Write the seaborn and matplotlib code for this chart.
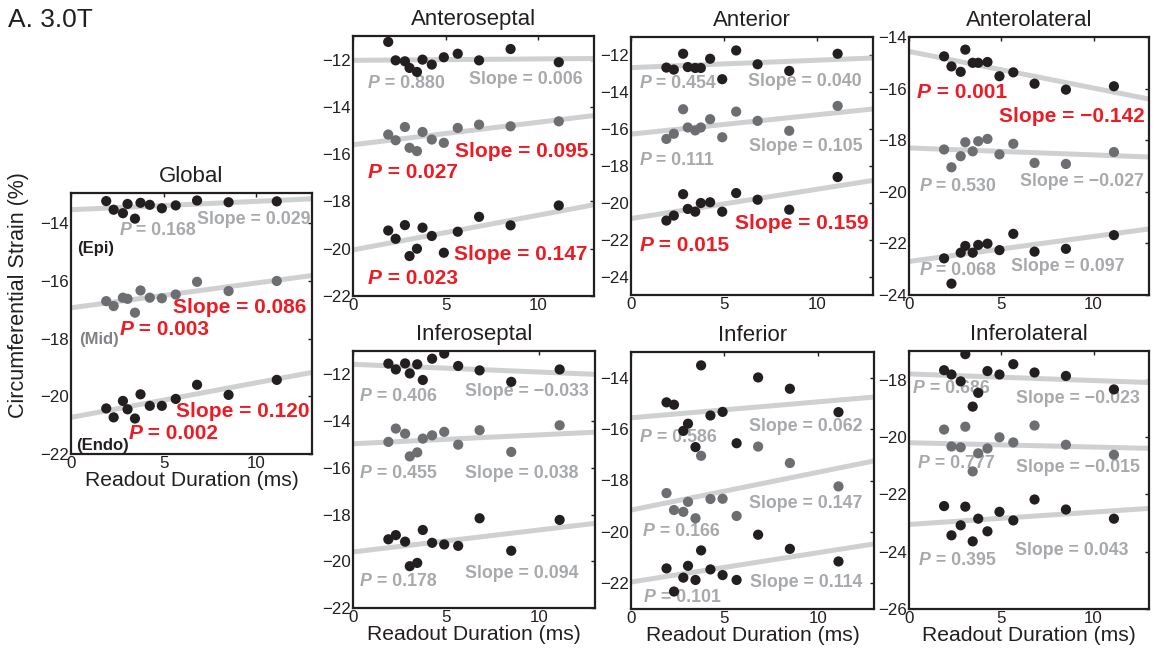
import matplotlib
matplotlib.use("Agg")
import matplotlib.pyplot as plt
import numpy as np
import pandas as pd
import seaborn as sns

# Readout durations (ms), shared by every segment
readout_ms = [1.9, 2.3, 2.8, 3.05, 3.45, 3.75, 4.25, 4.9, 5.65, 6.8, 8.5, 11.1]
layers = ["Epi", "Mid", "Endo"]

# Circumferential strain (%) per segment and layer
global_epi = [-13.23, -13.53, -13.65, -13.33, -13.84, -13.29, -13.36, -13.48, -13.38, -13.21, -13.27, -13.24]
global_mid = [-16.70, -16.87, -16.58, -16.62, -17.10, -16.33, -16.58, -16.60, -16.47, -16.03, -16.35, -16.00]
global_endo = [-20.42, -20.73, -20.16, -20.45, -20.77, -19.93, -20.33, -20.33, -20.09, -19.60, -19.95, -19.43]

anteroseptal_epi = [-11.25, -12.03, -12.07, -12.35, -12.52, -12.00, -12.21, -11.90, -11.75, -12.03, -11.55, -12.11]
anteroseptal_mid = [-15.17, -15.41, -14.85, -15.73, -15.87, -15.06, -15.38, -15.52, -14.89, -14.75, -14.82, -14.61]
anteroseptal_endo = [-19.23, -19.58, -19.00, -20.31, -20.00, -19.11, -19.46, -20.17, -19.28, -18.65, -19.01, -18.17]

anterior_epi = [-12.66, -12.77, -11.91, -12.63, -12.68, -12.68, -12.18, -13.29, -11.73, -12.48, -12.84, -11.91]
anterior_mid = [-16.53, -16.25, -14.92, -15.91, -16.07, -15.91, -15.46, -16.44, -15.05, -15.55, -16.09, -14.74]
anterior_endo = [-20.96, -20.69, -19.53, -20.33, -20.48, -20.01, -19.97, -20.48, -19.47, -19.83, -20.37, -18.60]

anterolateral_epi = [-14.75, -15.14, -15.35, -14.49, -15.00, -15.00, -14.97, -15.52, -15.37, -15.81, -16.04, -15.91]
anterolateral_mid = [-18.36, -19.05, -18.62, -18.08, -18.43, -18.04, -17.95, -18.55, -18.14, -18.88, -18.92, -18.46]
anterolateral_endo = [-22.58, -23.56, -22.36, -22.10, -22.36, -22.06, -22.01, -22.26, -21.63, -22.32, -22.21, -21.68]

inferoseptal_epi = [-11.54, -11.79, -11.53, -11.96, -11.57, -12.24, -11.33, -11.11, -11.64, -11.83, -12.32, -11.79]
inferoseptal_mid = [-14.89, -14.32, -14.54, -15.51, -15.34, -14.75, -14.61, -14.46, -15.01, -14.39, -15.32, -14.18]
inferoseptal_endo = [-19.06, -18.88, -19.16, -20.21, -20.07, -18.66, -19.21, -19.28, -19.34, -18.16, -19.55, -18.23]

inferior_epi = [-14.96, -15.05, -16.07, -15.79, -16.70, -13.52, -15.47, -15.33, -16.55, -13.99, -14.43, -15.34]
inferior_mid = [-18.49, -19.15, -19.22, -18.83, -19.47, -17.04, -18.72, -18.71, -19.38, -16.68, -17.32, -18.23]
inferior_endo = [-21.42, -22.32, -21.78, -21.32, -21.87, -20.72, -21.46, -21.68, -21.87, -20.11, -20.66, -21.15]

inferolateral_epi = [-17.67, -17.82, -18.06, -17.11, -18.94, -18.46, -17.70, -17.82, -17.46, -17.75, -17.87, -18.34]
inferolateral_mid = [-19.74, -20.33, -20.36, -19.64, -21.20, -20.57, -20.40, -20.01, -20.19, -19.60, -20.27, -20.62]
inferolateral_endo = [-22.41, -23.43, -23.08, -22.43, -23.64, -22.85, -23.29, -22.61, -22.91, -22.18, -22.53, -22.85]

# Linear fits per layer (Epi, Mid, Endo): slope, intercept and P value
global_slope = [0.029, 0.086, 0.120]
global_icpt = [-13.53, -16.93, -20.73]
global_p = [0.168, 0.003, 0.002]

anteroseptal_slope = [0.006, 0.095, 0.147]
anteroseptal_icpt = [-12.03, -15.60, -20.05]
anteroseptal_p = [0.880, 0.027, 0.023]

anterior_slope = [0.040, 0.105, 0.159]
anterior_icpt = [-12.66, -16.27, -20.85]
anterior_p = [0.454, 0.111, 0.015]

anterolateral_slope = [-0.142, -0.027, 0.097]
anterolateral_icpt = [-14.56, -18.30, -22.70]
anterolateral_p = [0.001, 0.530, 0.068]

inferoseptal_slope = [-0.033, 0.038, 0.094]
inferoseptal_icpt = [-11.57, -14.97, -19.60]
inferoseptal_p = [0.406, 0.455, 0.178]

inferior_slope = [0.062, 0.147, 0.114]
inferior_icpt = [-15.56, -19.15, -21.95]
inferior_p = [0.586, 0.166, 0.101]

inferolateral_slope = [-0.023, -0.015, 0.043]
inferolateral_icpt = [-17.80, -20.20, -23.05]
inferolateral_p = [0.686, 0.777, 0.395]

panels = {
    "Global": (global_epi, global_mid, global_endo, global_slope, global_icpt, global_p),
    "Anteroseptal": (anteroseptal_epi, anteroseptal_mid, anteroseptal_endo,
                     anteroseptal_slope, anteroseptal_icpt, anteroseptal_p),
    "Anterior": (anterior_epi, anterior_mid, anterior_endo,
                 anterior_slope, anterior_icpt, anterior_p),
    "Anterolateral": (anterolateral_epi, anterolateral_mid, anterolateral_endo,
                      anterolateral_slope, anterolateral_icpt, anterolateral_p),
    "Inferoseptal": (inferoseptal_epi, inferoseptal_mid, inferoseptal_endo,
                     inferoseptal_slope, inferoseptal_icpt, inferoseptal_p),
    "Inferior": (inferior_epi, inferior_mid, inferior_endo,
                 inferior_slope, inferior_icpt, inferior_p),
    "Inferolateral": (inferolateral_epi, inferolateral_mid, inferolateral_endo,
                      inferolateral_slope, inferolateral_icpt, inferolateral_p),
}

# ---- layout (pixel boxes: left, top, right, bottom) ----
W, H = 1155, 653
boxes = {
    "Global": (71, 193, 312, 454),
    "Anteroseptal": (353, 36, 594, 296),
    "Anterior": (631, 37, 873, 295),
    "Anterolateral": (909, 37, 1149, 295),
    "Inferoseptal": (353, 351, 595, 608),
    "Inferior": (631, 352, 874, 609),
    "Inferolateral": (909, 351, 1149, 609),
}
ylims = {
    "Global": (-22, -12.95),
    "Anteroseptal": (-22, -11),
    "Anterior": (-25, -11),
    "Anterolateral": (-24, -14),
    "Inferoseptal": (-22, -11),
    "Inferior": (-23, -13),
    "Inferolateral": (-26, -17),
}
with_xlabel = {"Global", "Inferoseptal", "Inferior", "Inferolateral"}

# annotation anchors per layer: (P label left/center, slope label right/center)
label_pos = {
    "Global": [((2.6, -14.26), (12.9, -13.88)), ((2.6, -17.69), (12.68, -16.93)),
               ((3.09, -21.29), (12.86, -20.53))],
    "Anteroseptal": [((0.8, -13.01), (12.41, -12.85)), ((0.8, -16.79), (12.68, -15.87)),
                     ((0.8, -21.27), (12.64, -20.24))],
    "Anterior": [((0.45, -13.52), (12.37, -13.43)), ((0.45, -17.7), (12.42, -16.96)),
                 ((0.45, -22.3), (12.78, -21.14))],
    "Anterolateral": [((0.43, -16.14), (12.75, -17.07)), ((0.57, -19.78), (12.71, -19.59)),
                      ((0.57, -23.04), (11.68, -22.88))],
    "Inferoseptal": [((0.36, -12.93), (12.68, -12.72)), ((0.36, -16.23), (12.1, -16.26)),
                     ((0.36, -20.88), (12.1, -20.52))],
    "Inferior": [((0.48, -16.32), (12.36, -15.88)), ((0.63, -20.0), (12.36, -18.88)),
                 ((0.7, -22.57), (12.36, -21.96))],
    "Inferolateral": [((0.21, -18.32), (12.5, -18.67)), ((0.48, -20.91), (12.5, -21.06)),
                      ((0.54, -24.3), (11.9, -23.95))],
}

DARK = "#231f20"
MIDGRAY = "#6d6e71"
FITLINE = "#cfd0d2"
TXTGRAY = "#a7a9ac"
RED = "#ed1c24"
point_palette = {"Epi": DARK, "Mid": MIDGRAY, "Endo": DARK}
line_palette = {k: FITLINE for k in layers}

sns.set_theme(style="white")
plt.rcParams["font.family"] = ["Liberation Sans", "DejaVu Sans"]
plt.rcParams["axes.unicode_minus"] = True

fig = plt.figure(figsize=(W / 100, H / 100), dpi=100)
fig.patch.set_facecolor("white")

x_line = np.array([0.0, 13.0])

for name, (epi, mid, endo, slopes, icpts, pvals) in panels.items():
    l, t, r, b = boxes[name]
    ax = fig.add_axes([l / W, (H - b) / H, (r - l) / W, (b - t) / H])

    pts = pd.DataFrame({
        "readout": readout_ms * 3,
        "strain": epi + mid + endo,
        "layer": np.repeat(layers, len(readout_ms)),
    })
    fits = pd.DataFrame({
        "readout": np.tile(x_line, 3),
        "strain": np.concatenate([icpts[i] + slopes[i] * x_line for i in range(3)]),
        "layer": np.repeat(layers, 2),
    })

    sns.lineplot(data=fits, x="readout", y="strain", hue="layer", palette=line_palette,
                 linewidth=3.6, legend=False, ax=ax, zorder=1, estimator=None, sort=False)
    sns.scatterplot(data=pts, x="readout", y="strain", hue="layer", palette=point_palette,
                    s=54, edgecolor="none", linewidth=0, legend=False, ax=ax, zorder=4)

    # P value and slope labels; significant fits in red
    for i in range(3):
        sig = pvals[i] < 0.05
        col = RED if sig else TXTGRAY
        fs = 15 if sig else 12.8
        (px, py), (sx, sy) = label_pos[name][i]
        tp = ax.text(px, py, "P", color=col, fontsize=fs, fontweight="bold",
                     fontstyle="italic", ha="left", va="center", zorder=3)
        ax.annotate(f" = {pvals[i]:.3f}", xy=(1, 0), xycoords=tp, color=col,
                    fontsize=fs, fontweight="bold", ha="left", va="bottom", zorder=3)
        slope_txt = f"{slopes[i]:.3f}".replace("-", "\u2212")
        ax.text(sx, sy, f"Slope = {slope_txt}", color=col, fontsize=fs,
                fontweight="bold", ha="right", va="center", zorder=3)

    ax.set_xlim(0, 13)
    ax.set_ylim(*ylims[name])
    ax.set_xticks([0, 5, 10])
    lo, hi = ylims[name]
    ax.set_yticks(np.arange(np.ceil(lo / 2) * 2, hi + 0.01, 2))
    ax.tick_params(direction="in", length=3, width=1, top=True, right=True,
                   labelsize=12.2, labelcolor=DARK, color=DARK, pad=1.5)
    for sp in ax.spines.values():
        sp.set_color(DARK)
        sp.set_linewidth(1.6)
    ax.set_title(name, fontsize=16, color=DARK, pad=8)
    ax.set_ylabel("")
    if name in with_xlabel:
        ax.set_xlabel("Readout Duration (ms)", fontsize=15.2, color=DARK, labelpad=0)
    else:
        ax.set_xlabel("")

    if name == "Global":
        ax.text(0.34, -14.86, "(Epi)", fontsize=12, fontweight="bold", color=DARK,
                ha="left", va="center", zorder=3)
        ax.text(0.43, -18.03, "(Mid)", fontsize=12, fontweight="bold", color="#808285",
                ha="left", va="center", zorder=3)
        ax.text(0.27, -21.7, "(Endo)", fontsize=12, fontweight="bold", color=DARK,
                ha="left", va="center", zorder=3)

fig.text(19 / W, 1 - 295 / H, "Circumferential Strain (%)", rotation=90,
         fontsize=15.5, color=DARK, ha="center", va="center")
fig.text(8 / W, 1 - 20 / H, "A. 3.0T", fontsize=19, color=DARK, ha="left", va="center")

fig.savefig("out.png", dpi=100, facecolor="white")
